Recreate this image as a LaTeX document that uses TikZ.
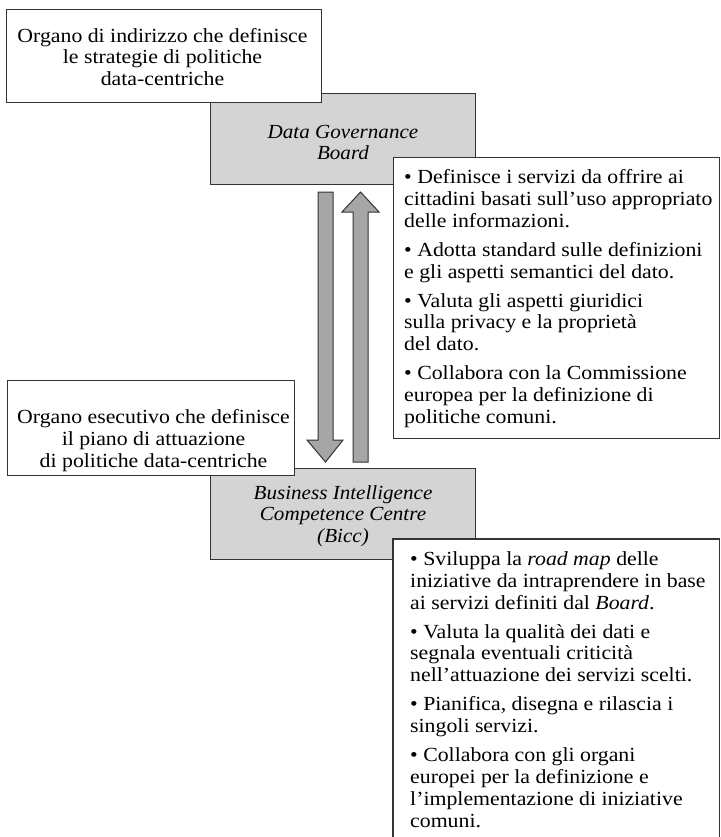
\documentclass[tikz,border=0pt]{standalone}
\usepackage{fontspec}
\setmainfont{Liberation Serif}[FakeStretch=1.09]
\newfontfamily\labelfam{Liberation Serif}[FakeStretch=1.055]
\definecolor{lineclr}{HTML}{333333}
\definecolor{boxgray}{HTML}{D4D4D4}
\definecolor{arrowgray}{HTML}{A6A6A6}
\begin{document}
\begin{tikzpicture}[x=1pt,y=-1pt,
  frame/.style={draw=lineclr, line width=1.1pt, inner sep=0pt, anchor=north west},
  whitebox/.style={frame, fill=white},
  graybox/.style={frame, fill=boxgray},
  txt/.style={font=\fontsize{20}{21.6}\selectfont, inner sep=0pt, text=black},
  ctxt/.style={txt, align=center, anchor=north},
  itxt/.style={ctxt, font=\fontsize{20}{21.6}\selectfont\labelfam\itshape},
  ltxt/.style={txt, font=\fontsize{20}{21.9}\selectfont, align=left, anchor=north west},
  blockarrow/.style={draw=lineclr, line width=1pt, fill=arrowgray, line join=miter}]
\useasboundingbox (0,0) rectangle (720,837);
\fill[white] (0,0) rectangle (720,837);

% gray boxes
\node[graybox, minimum width=265pt, minimum height=91pt] (dgb) at (210,93) {};
\node[graybox, minimum width=265pt, minimum height=91pt] (bicc) at (210,468) {};

% white boxes on top
\node[whitebox, minimum width=315pt, minimum height=93pt] (tl) at (6,9) {};
\node[whitebox, minimum width=287pt, minimum height=95pt] (bl) at (7,380) {};
\node[whitebox, minimum width=326pt, minimum height=281pt] (tr) at (393,157) {};
\node[fill=white, inner sep=0pt, anchor=north west, minimum width=326pt, minimum height=300pt] (br) at (393,539) {};
\draw[draw=lineclr, line width=1.1pt] (br.south west) -- (br.north west) -- (br.north east) -- (br.south east);

% texts
\node[ctxt] (tltext) at (162.5,28) {Organo di indirizzo che definisce\\le strategie di politiche\\data-centriche};
\node[ctxt] (bltext) at (153.5,409.6) {Organo esecutivo che definisce\\il piano di attuazione\\di politiche data-centriche};
\node[itxt] (dgbtext) at (343,124.6) {Data Governance\\Board};
\node[itxt] (bicctext) at (343,485.3) {Business Intelligence\\Competence Centre\\(Bicc)};

\node[ltxt] (trtext) at (404,169.3) {• Definisce i servizi da offrire ai\\
cittadini basati sull'uso appropriato\\
delle informazioni.\\[7pt]
• Adotta standard sulle definizioni\\
e gli aspetti semantici del dato.\\[7pt]
• Valuta gli aspetti giuridici\\
sulla privacy e la proprietà\\
del dato.\\[7pt]
• Collabora con la Commissione\\
europea per la definizione di\\
politiche comuni.};

\node[ltxt] (brtext) at (410,551.3) {• Sviluppa la \textit{road map} delle\\
iniziative da intraprendere in base\\
ai servizi definiti dal \textit{Board}.\\[7pt]
• Valuta la qualità dei dati e\\
segnala eventuali criticità\\
nell'attuazione dei servizi scelti.\\[7pt]
• Pianifica, disegna e rilascia i\\
singoli servizi.\\[7pt]
• Collabora con gli organi\\
europei per la definizione e\\
l'implementazione di iniziative\\
comuni.};

% block arrows
\draw[blockarrow] (318,192) -- (333,192) -- (333,440) -- (343,440) -- (325.5,462) -- (307,440) -- (318,440) -- cycle;
\draw[blockarrow] (353,462) -- (368,462) -- (368,212) -- (379,212) -- (360.5,192) -- (342,212) -- (353,212) -- cycle;
\end{tikzpicture}
\end{document}
